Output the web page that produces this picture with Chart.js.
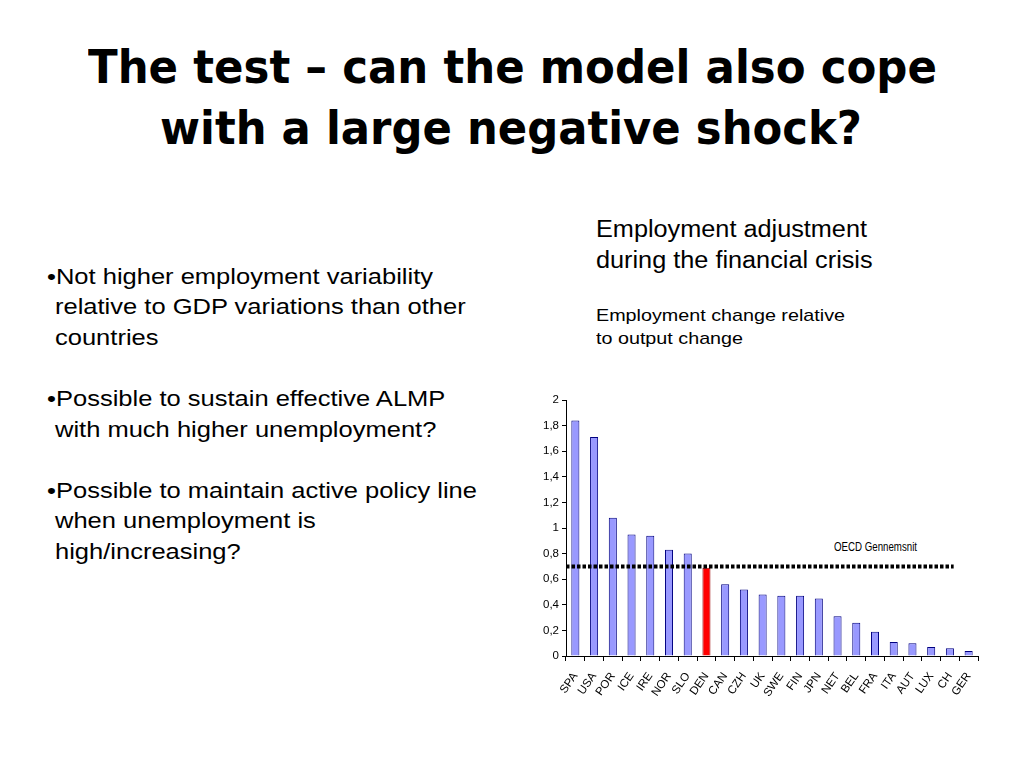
<!DOCTYPE html>
<html>
<head>
<meta charset="utf-8">
<script src="https://cdn.jsdelivr.net/npm/chart.js@4.4.1/dist/chart.umd.min.js"></script>
<style>
  html, body { margin:0; padding:0; background:#fff; }
  #page { position:relative; width:1024px; height:768px; overflow:hidden; background:#fff; }
  .t { position:absolute; white-space:nowrap; color:#000; transform-origin:left center; }
  .title { font-family:"DejaVu Sans", Verdana, sans-serif; font-weight:bold; font-size:46px; line-height:56px; }
  .body { font-family:"Liberation Sans", Arial, sans-serif; font-size:21.5px; line-height:30px; }
  .head { font-family:"Liberation Sans", Arial, sans-serif; font-size:23.5px; line-height:30px; }
  .small { font-family:"Liberation Sans", Arial, sans-serif; font-size:17px; line-height:22px; }
  .oecd { font-family:"Liberation Sans Narrow", "Liberation Sans", Arial, sans-serif; font-size:12px; line-height:14px; }
  #chartBox { position:absolute; left:520px; top:390px; width:480px; height:345px; }
</style>
</head>
<body>
<div id="page">
  <div class="t title" data-left="88" data-cy="67" data-w="849">The test – can the model also cope</div>
  <div class="t title" data-left="160" data-cy="128" data-w="702">with a large negative shock?</div>

  <div class="t body" data-left="47" data-cy="276.5" data-w="386" data-group="b">•Not higher employment variability</div>
  <div class="t body" data-left="55" data-cy="307.1" data-group="b">relative to GDP variations than other</div>
  <div class="t body" data-left="55" data-cy="337.7" data-group="b">countries</div>
  <div class="t body" data-left="47" data-cy="398.9" data-group="b">•Possible to sustain effective ALMP</div>
  <div class="t body" data-left="55" data-cy="429.5" data-group="b">with much higher unemployment?</div>
  <div class="t body" data-left="47" data-cy="490.7" data-group="b">•Possible to maintain active policy line</div>
  <div class="t body" data-left="55" data-cy="521.3" data-group="b">when unemployment is</div>
  <div class="t body" data-left="55" data-cy="551.9" data-group="b">high/increasing?</div>

  <div class="t head" data-left="596" data-cy="228.5" data-w="271" data-group="h">Employment adjustment</div>
  <div class="t head" data-left="596" data-cy="259.5" data-group="h">during the financial crisis</div>
  <div class="t small" data-left="596" data-cy="316" data-w="249" data-group="s">Employment change relative</div>
  <div class="t small" data-left="596" data-cy="339" data-group="s">to output change</div>

  <div class="t oecd" data-left="834" data-cy="547" data-w="83">OECD Gennemsnit</div>

  <div id="chartBox"><canvas id="c"></canvas></div>
</div>
<script>
// ---- data ----
const categories = ["SPA","USA","POR","ICE","IRE","NOR","SLO","DEN","CAN","CZH","UK","SWE","FIN","JPN","NET","BEL","FRA","ITA","AUT","LUX","CH","GER"];
const employmentRatio = [1.84,1.71,1.08,0.95,0.94,0.83,0.80,0.69,0.56,0.52,0.48,0.47,0.47,0.45,0.31,0.26,0.19,0.11,0.10,0.07,0.06,0.04];
const highlightCountry = "DEN";
const oecdAverage = 0.70;
const oecdSpan = [-0.5, 20.2];   // in category-index units
const yTickLabels = ["0","0,2","0,4","0,6","0,8","1","1,2","1,4","1,6","1,8","2"];

// ---- text placement with horizontal fitting ----
const groupScale = {};
document.querySelectorAll('.t').forEach(el => {
  el.style.left = el.dataset.left + 'px';
  const lh = parseFloat(getComputedStyle(el).lineHeight);
  el.style.top = (parseFloat(el.dataset.cy) - lh / 2) + 'px';
});
document.querySelectorAll('.t').forEach(el => {
  if (el.dataset.w) {
    const nat = el.getBoundingClientRect().width;
    const s = parseFloat(el.dataset.w) / nat;
    el.style.transform = 'scaleX(' + s + ')';
    if (el.dataset.group) groupScale[el.dataset.group] = s;
  }
});
document.querySelectorAll('.t').forEach(el => {
  if (!el.dataset.w && el.dataset.group && groupScale[el.dataset.group]) {
    el.style.transform = 'scaleX(' + groupScale[el.dataset.group] + ')';
  }
});

// ---- OECD average line drawn through the chart scales ----
const oecdLine = {
  id: 'oecdLine',
  afterDatasetsDraw(chart) {
    const x = chart.scales.x, y = chart.scales.y, ctx = chart.ctx;
    const py = y.getPixelForValue(oecdAverage);
    const x0 = x.getPixelForValue(oecdSpan[0]);
    const x1 = x.getPixelForValue(oecdSpan[1]);
    ctx.save();
    ctx.strokeStyle = '#000';
    ctx.lineWidth = 4;
    ctx.lineCap = 'butt';
    ctx.setLineDash([3.5, 2]);
    ctx.beginPath();
    ctx.moveTo(x0, py);
    ctx.lineTo(x1, py);
    ctx.stroke();
    ctx.restore();
  }
};

// ---- chart ----
const tickFont = { family: '"Liberation Sans Narrow", "Liberation Sans", Arial, sans-serif', size: 11.5 };
new Chart(document.getElementById('c'), {
  type: 'bar',
  data: {
    labels: categories,
    datasets: [
      {
        data: employmentRatio,
        backgroundColor: categories.map(c => c === highlightCountry ? '#FF0000' : '#9999FF'),
        borderColor: categories.map(c => c === highlightCountry ? '#990000' : '#000080'),
        borderWidth: 1,
        barPercentage: 0.43,
        categoryPercentage: 1.0
      }
    ]
  },
  plugins: [oecdLine],
  options: {
    responsive: true,
    maintainAspectRatio: false,
    animation: false,
    events: [],
    layout: { padding: { top: 10, right: 22, left: 0, bottom: 0 } },
    plugins: { legend: { display: false }, tooltip: { enabled: false }, title: { display: false } },
    scales: {
      x: {
        type: 'category',
        offset: true,
        grid: { display: true, drawOnChartArea: false, drawTicks: true, tickLength: 5, color: '#000', offset: true },
        border: { display: true, color: '#000', width: 1 },
        ticks: { color: '#000', font: tickFont, minRotation: 55, maxRotation: 55, autoSkip: false, padding: 9 },
        afterFit: s => { s.height = 79; }
      },
      y: {
        min: 0,
        max: 2,
        grid: { display: true, drawOnChartArea: false, drawTicks: true, tickLength: 4, color: '#000' },
        border: { display: true, color: '#000', width: 1 },
        ticks: {
          stepSize: 0.2,
          color: '#000',
          font: tickFont,
          padding: 3,
          callback: (v, i) => yTickLabels[i]
        },
        afterFit: s => { s.width = 46; }
      }
    }
  }
});
</script>
</body>
</html>
